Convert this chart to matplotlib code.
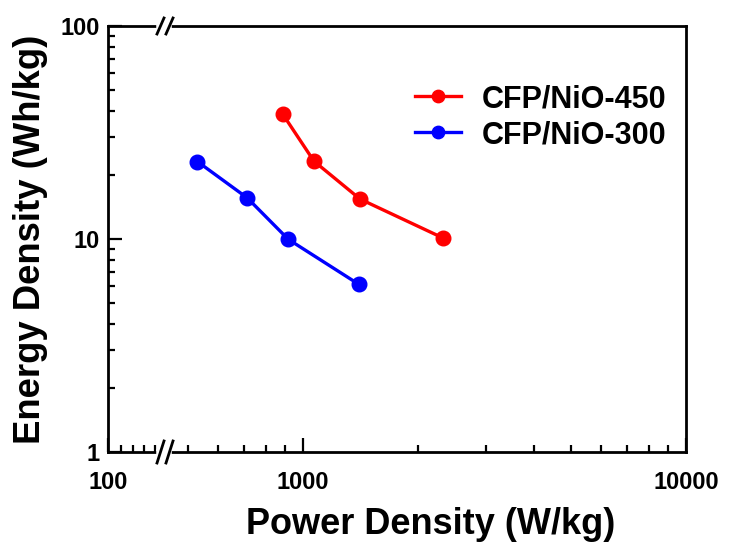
import numpy as np
import matplotlib
matplotlib.use("Agg")
import matplotlib.pyplot as plt
from matplotlib.ticker import FixedLocator, NullFormatter, FixedFormatter

plt.rcParams['font.family'] = ['Liberation Sans', 'DejaVu Sans']
plt.rcParams['font.weight'] = 'bold'
plt.rcParams['xtick.labelsize'] = 17
plt.rcParams['ytick.labelsize'] = 17

# data
power_450 = [885, 1068, 1409, 2323]
energy_450 = [38.6, 23.2, 15.4, 10.1]
power_300 = [530, 715, 915, 1400]
energy_300 = [23.1, 15.6, 9.97, 6.12]
labels = ['CFP/NiO-450', 'CFP/NiO-300']
x_major = [100, 1000, 10000]
x_minor = [110, 120, 130, 140, 500, 600, 700, 800, 900,
           2000, 3000, 4000, 5000, 6000, 7000, 8000, 9000]
y_major = [1, 10, 100]

# broken log axis: 100..150 squeezed, gap, then 450..10000 normal log
K1, K2 = 320.0, 383.0
U100 = -195.0
LB1, LB2 = np.log10(150.0), np.log10(450.0)
UB1 = U100 + K1 * (LB1 - 2)
UB2 = K2 * (LB2 - 3)


def fwd(x):
    L = np.log10(np.maximum(np.asarray(x, dtype=float), 1e-10))
    left = U100 + K1 * (L - 2)
    right = K2 * (L - 3)
    mid = UB1 + (L - LB1) * (UB2 - UB1) / (LB2 - LB1)
    return np.where(L <= LB1, left, np.where(L >= LB2, right, mid))


def inv(u):
    u = np.asarray(u, dtype=float)
    left = 2 + (u - U100) / K1
    right = 3 + u / K2
    mid = LB1 + (u - UB1) * (LB2 - LB1) / (UB2 - UB1)
    L = np.where(u <= UB1, left, np.where(u >= UB2, right, mid))
    return 10 ** L


fig = plt.figure(figsize=(7.29, 5.43), dpi=100)
ax = fig.add_axes([108 / 729, 1 - 452 / 543, 578 / 729, 426 / 543])

ax.set_xscale('function', functions=(fwd, inv))
ax.set_yscale('log')
ax.set_xlim(100, 10000)
ax.set_ylim(1, 100)

ax.plot(power_450, energy_450, '-o', color='#ff0000', lw=2.4, ms=10.5, label=labels[0])
ax.plot(power_300, energy_300, '-o', color='#0000ff', lw=2.4, ms=10.5, label=labels[1])

ax.xaxis.set_major_locator(FixedLocator(x_major))
ax.xaxis.set_major_formatter(FixedFormatter([str(v) for v in x_major]))
ax.xaxis.set_minor_locator(FixedLocator(x_minor))
ax.xaxis.set_minor_formatter(NullFormatter())
ax.yaxis.set_major_locator(FixedLocator(y_major))
ax.yaxis.set_major_formatter(FixedFormatter([str(v) for v in y_major]))

for s in ax.spines.values():
    s.set_linewidth(2)
ax.tick_params(which='both', direction='in', width=1.6, top=False, right=False)
ax.tick_params(which='major', length=10)
ax.tick_params(which='minor', length=5)
ax.tick_params(axis='x', pad=14)
ax.tick_params(axis='y', pad=6)

# axis break marks
def px(x, y):
    return (x - 108) / 578, (452 - y) / 426

for yc, h in [(452, 11), (26, 8)]:
    a, b = px(159, yc)
    c, d = px(169, yc)
    ax.plot([a, c], [b, d], color='white', lw=4, transform=ax.transAxes, clip_on=False, zorder=5)
    for x0 in (157, 166):
        p0 = px(x0, yc + h)
        p1 = px(x0 + 7, yc - h)
        ax.plot([p0[0], p1[0]], [p0[1], p1[1]], color='black', lw=2,
                transform=ax.transAxes, clip_on=False, zorder=6)

fig.text(431 / 729, 1 - 524 / 543, 'Power Density (W/kg)', ha='center', va='center',
         fontsize=26, fontweight='bold')
fig.text(31 / 729, 1 - 239 / 543, 'Energy Density (Wh/kg)', ha='center', va='center',
         rotation=90, fontsize=26.3, fontweight='bold')

ax.legend(loc='upper left', bbox_to_anchor=((415 - 108) / 578, (452 - 84) / 426),
          frameon=False, markerscale=0.85, handlelength=1.5,
          handletextpad=0.7, labelspacing=0.2, borderpad=0, borderaxespad=0,
          prop={'weight': 'bold', 'size': 22})

fig.savefig('out.png', dpi=100)
